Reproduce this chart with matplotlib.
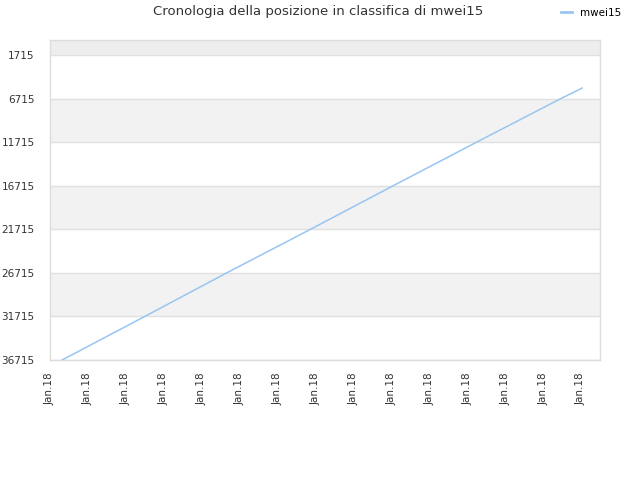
import matplotlib
matplotlib.use("Agg")
import matplotlib.pyplot as plt
from matplotlib.lines import Line2D

# data (x in tick units, y = ranking position)
x_vals = [0.32, 2.5, 4.66, 6.87, 9.05, 11.25, 13.47, 14.03]
ranks = [36715, 31715, 26715, 21715, 16715, 11715, 6715, 5515]
tick_pos = list(range(15))
tick_labels = ["Jan.18"] * 15
y_ticks = [1715, 6715, 11715, 16715, 21715, 26715, 31715, 36715]
series_name = "mwei15"
title = "Cronologia della posizione in classifica di mwei15"

fig = plt.figure(figsize=(6.4, 4.8), dpi=100)
ax = fig.add_axes([50/640, 120/480, 550/640, 320/480])

ymin, ymax = 0, 36715
# alternating bands
ax.axhspan(0, 1715, color="#eeeeee", zorder=0, lw=0)
for i in range(len(y_ticks) - 1):
    if i % 2 == 1:
        ax.axhspan(y_ticks[i], y_ticks[i + 1], color="#f2f2f2", zorder=0, lw=0)
for yt in y_ticks:
    ax.axhline(yt, color="#e0e0e0", lw=1, zorder=1)

line_color = "#99c5f2"
ax.plot(x_vals, ranks, color=line_color, lw=1.1, zorder=3)

ax.set_xlim(0, 14.5)
ax.set_ylim(ymax, ymin)
ax.set_yticks(y_ticks)
ax.set_yticklabels([str(v) for v in y_ticks])
ax.set_xticks(tick_pos)
ax.set_xticklabels(tick_labels, rotation=90)
ax.tick_params(axis="both", length=0, labelsize=7.5, colors="#333333")
ax.tick_params(axis="y", pad=11)
ax.tick_params(axis="x", pad=9)
for s in ax.spines.values():
    s.set_color("#dddddd")
    s.set_linewidth(1)

fig.text(318/640, 1 - 12/480, title, ha="center", va="center", fontsize=9.5, color="#333333")
handle = Line2D([], [], color=line_color, lw=2)
fig.legend(handles=[handle], labels=[series_name], loc="center left",
           bbox_to_anchor=(552/640, 1 - 13/480), frameon=False, fontsize=7.5,
           handlelength=1.0, handletextpad=0.8)

fig.savefig("out.png", dpi=100)
